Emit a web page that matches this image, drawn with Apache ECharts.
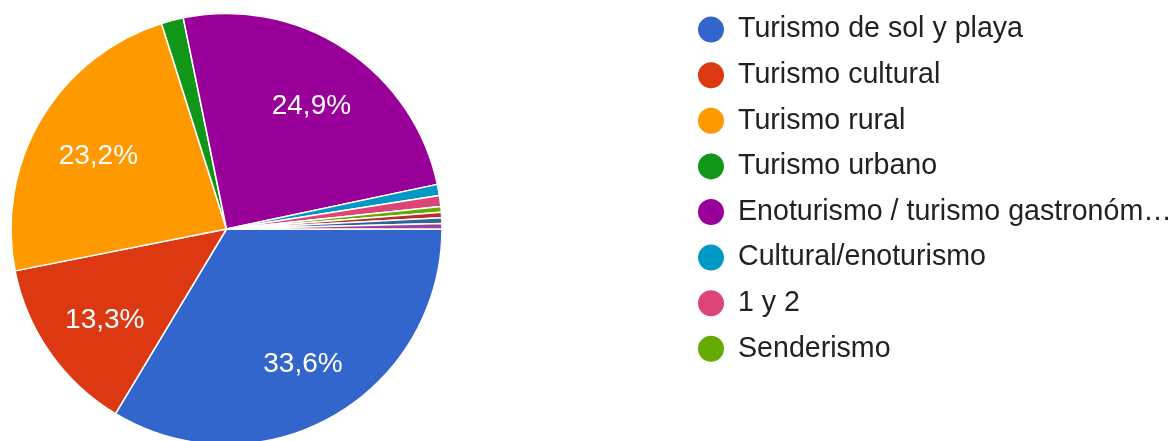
<!DOCTYPE html>
<html>
<head>
<meta charset="utf-8">
<script src="https://cdn.jsdelivr.net/npm/echarts@6/dist/echarts.min.js"></script>
<style>
html,body{margin:0;padding:0;background:#fff;}
#c{width:1175px;height:441px;}
</style>
</head>
<body>
<div id="c"></div>
<script>
const categories = [
  'Turismo de sol y playa',
  'Turismo cultural',
  'Turismo rural',
  'Turismo urbano',
  'Enoturismo / turismo gastronómico',
  'Cultural/enoturismo',
  '1 y 2',
  'Senderismo',
  'Otro 1',
  'Otro 2',
  'Otro 3'
];
const counts = [81, 32, 56, 4, 60, 2, 2, 1, 1, 1, 1];
const colors = ['#3366cc','#dc3912','#ff9900','#109618','#990099','#0099c6','#dd4477','#66aa00','#b82e2e','#316395','#994499'];
const legendItems = categories.slice(0, 8);
const total = counts.reduce((a, b) => a + b, 0);

const data = categories.map((n, i) => ({name: n, value: counts[i], itemStyle: {color: colors[i]}}));
const labelData = categories.map((n, i) => ({name: n, value: counts[i]}));

const chart = echarts.init(document.getElementById('c'), null, {renderer: 'canvas'});
chart.setOption({
  backgroundColor: '#ffffff',
  animation: false,
  legend: {
    orient: 'vertical',
    left: 691,
    top: 9.6,
    data: legendItems,
    icon: 'circle',
    itemWidth: 28,
    itemHeight: 28,
    itemGap: 15.6,
    selectedMode: false,
    formatter: n => n.length > 31 ? n.slice(0, 30) + '…' : n,
    textStyle: {fontFamily: 'Liberation Sans, Arial, sans-serif', fontSize: 28.6, lineHeight: 28, color: '#222222', padding: [0,0,0,8]}
  },
  series: [
    {
      type: 'pie',
      center: [226.5, 229],
      radius: [0, 215.5],
      startAngle: 0,
      clockwise: true,
      silent: true,
      data: data,
      label: {show: false},
      labelLine: {show: false},
      itemStyle: {borderColor: '#ffffff', borderWidth: 1.5}
    },
    {
      type: 'pie',
      center: [226.5, 229],
      radius: [81, 215.5],
      startAngle: 0,
      clockwise: true,
      silent: true,
      data: labelData,
      itemStyle: {color: 'rgba(0,0,0,0)', borderWidth: 0},
      label: {
        show: true,
        position: 'inside',
        offset: [2, 4],
        fontFamily: 'Liberation Sans, Arial, sans-serif',
        fontSize: 28,
        color: '#ffffff',
        formatter: p => {
          const pct = p.value / total * 100;
          return pct >= 5 ? pct.toFixed(1).replace('.', ',') + '%' : '';
        }
      },
      labelLine: {show: false}
    }
  ]
});
</script>
</body>
</html>
